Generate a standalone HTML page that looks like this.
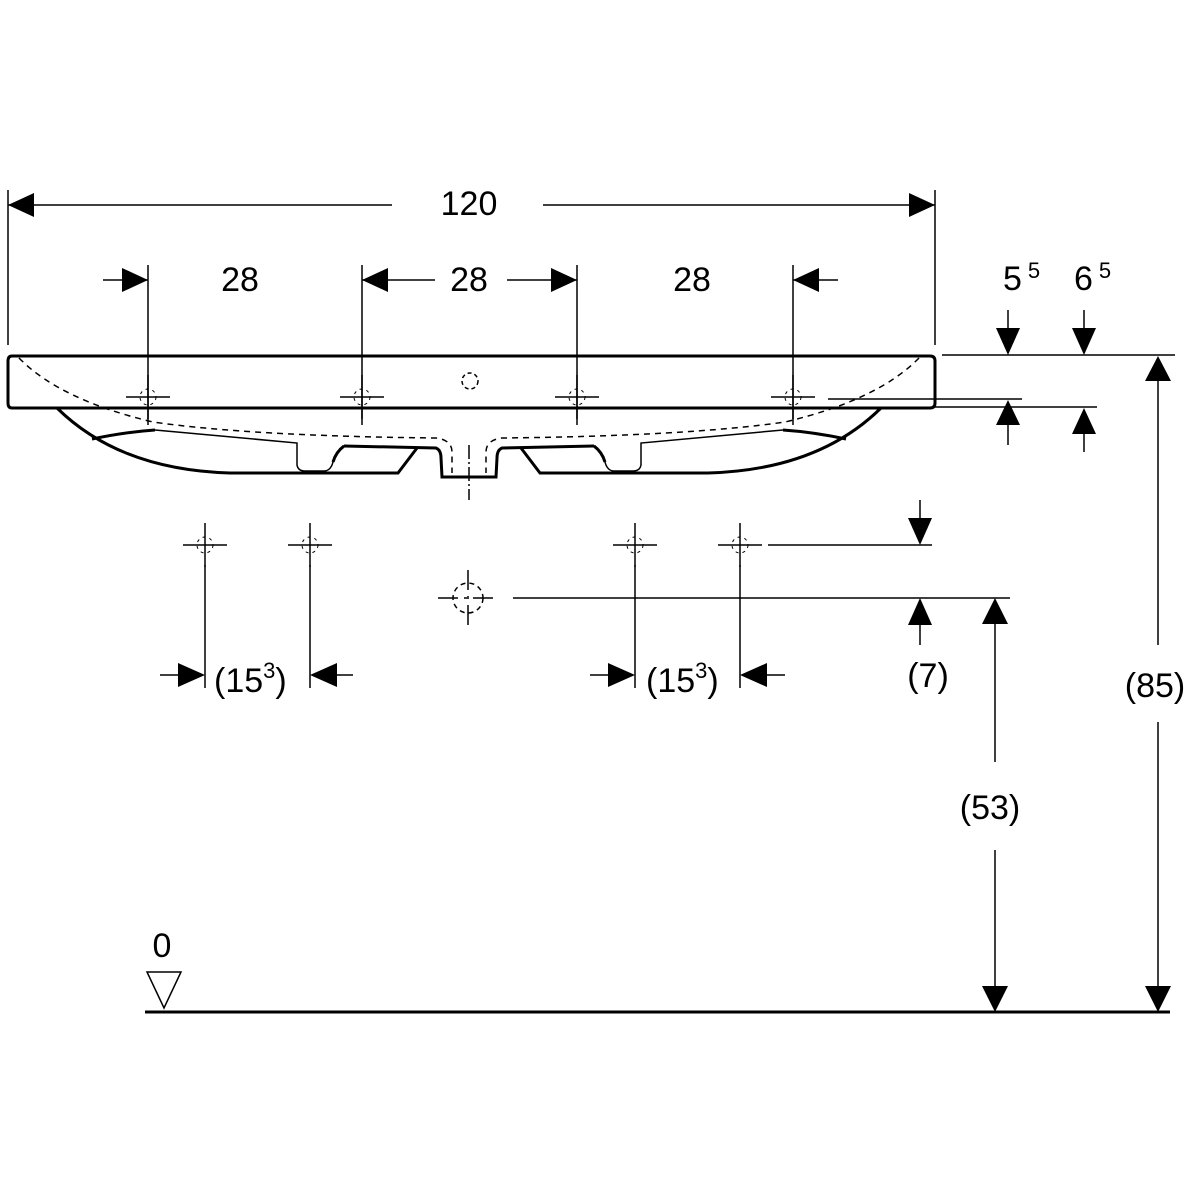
<!DOCTYPE html>
<html><head><meta charset="utf-8"><style>
html,body{margin:0;padding:0;background:#fff;width:1200px;height:1200px;overflow:hidden}
text{font-family:"Liberation Sans",sans-serif;font-size:34px;fill:#000}
</style></head><body>
<svg width="1200" height="1200" viewBox="0 0 1200 1200" xmlns="http://www.w3.org/2000/svg">
<defs>
<g id="cr"><line x1="-22" y1="0" x2="22" y2="0" stroke="#000" stroke-width="1.5"/><line x1="0" y1="-22" x2="0" y2="22" stroke="#000" stroke-width="1.5"/><circle r="8" fill="none" stroke="#000" stroke-width="1" stroke-dasharray="3,4"/></g>
</defs>
<g stroke="#000" fill="none">
<!-- rim -->
<path d="M12,356 L930,356 Q935,356 935,361 L935,403 Q935,408 930,408 L12,408 Q8,408 8,403 L8,361 Q8,356 12,356 Z" stroke-width="3"/>
<!-- outer bowl left -->
<path d="M57,408 Q120,470 230,473 L398,473 L417,448" stroke-width="3"/>
<path d="M881,408 Q818,470 708,473 L540,473 L521,448" stroke-width="3"/>
<path d="M92,439 Q125,432 155,430" stroke-width="3"/>
<path d="M846,439 Q813,432 783,430" stroke-width="3"/>
<!-- inner blocks -->
<path d="M155,430 L297,443 L297,465 Q298,471 305,471 L325,471 Q331,470 333,462 Q336,452 344,446 L436,448 Q441,450 441,458 L442,477 L496,477 L497,458 Q497,450 502,448 L594,446 Q602,452 605,462 Q607,470 613,471 L633,471 Q640,471 641,465 L641,443 L783,430" stroke-width="1.5"/>
<path d="M344,446 L436,448 Q441,450 441,458 L442,477 L496,477 L497,458 Q497,450 502,448 L594,446" stroke-width="3"/>
<path d="M344,446 Q336,452 333,462" stroke-width="3"/>
<path d="M594,446 Q602,452 605,462" stroke-width="3"/>
<!-- dashed bowl -->
<path d="M19,358 Q60,400 153,422 Q250,436 436,438 Q452,440 452,452 L452,473" stroke-width="1.5" stroke-dasharray="6,5"/>
<path d="M919,358 Q878,400 785,422 Q688,436 502,438 Q486,440 486,452 L486,473" stroke-width="1.5" stroke-dasharray="6,5"/>
<line x1="469" y1="445" x2="469" y2="500" stroke-width="1.5" stroke-dasharray="14,3,2,3"/>
<circle cx="470" cy="381" r="8" stroke-width="1.5" stroke-dasharray="4,3"/>
<!-- extension lines -->
<line x1="8" y1="190" x2="8" y2="345" stroke-width="1.5"/>
<line x1="935" y1="190" x2="935" y2="345" stroke-width="1.5"/>
<line x1="148" y1="265" x2="148" y2="425" stroke-width="1.5"/>
<line x1="362" y1="265" x2="362" y2="425" stroke-width="1.5"/>
<line x1="577" y1="265" x2="577" y2="425" stroke-width="1.5"/>
<line x1="793" y1="265" x2="793" y2="425" stroke-width="1.5"/>
<!-- 120 -->
<line x1="8" y1="205" x2="392" y2="205" stroke-width="1.5"/>
<line x1="543" y1="205" x2="935" y2="205" stroke-width="1.5"/>
<!-- 28s -->
<line x1="103" y1="280" x2="148" y2="280" stroke-width="1.5"/>
<line x1="362" y1="280" x2="435" y2="280" stroke-width="1.5"/>
<line x1="507" y1="280" x2="577" y2="280" stroke-width="1.5"/>
<line x1="793" y1="280" x2="838" y2="280" stroke-width="1.5"/>
<!-- right dims -->
<line x1="942" y1="355" x2="1175" y2="355" stroke-width="1.5"/>
<line x1="828" y1="399" x2="1022" y2="399" stroke-width="1.5"/>
<line x1="935" y1="407" x2="1097" y2="407" stroke-width="1.5"/>
<line x1="1008" y1="310" x2="1008" y2="340" stroke-width="1.5"/>
<line x1="1084" y1="310" x2="1084" y2="340" stroke-width="1.5"/>
<line x1="1008" y1="415" x2="1008" y2="445" stroke-width="1.5"/>
<line x1="1084" y1="425" x2="1084" y2="452" stroke-width="1.5"/>
<line x1="1158" y1="370" x2="1158" y2="645" stroke-width="1.5"/>
<line x1="1158" y1="722" x2="1158" y2="1000" stroke-width="1.5"/>
<line x1="995" y1="610" x2="995" y2="762" stroke-width="1.5"/>
<line x1="995" y1="850" x2="995" y2="1000" stroke-width="1.5"/>
<line x1="513" y1="598" x2="1010" y2="598" stroke-width="1.5"/>
<line x1="768" y1="545" x2="932" y2="545" stroke-width="1.5"/>
<line x1="920" y1="500" x2="920" y2="530" stroke-width="1.5"/>
<line x1="920" y1="615" x2="920" y2="645" stroke-width="1.5"/>
<!-- lower crosshair verticals -->
<line x1="205" y1="565" x2="205" y2="688" stroke-width="1.5"/>
<line x1="310" y1="565" x2="310" y2="688" stroke-width="1.5"/>
<line x1="635" y1="565" x2="635" y2="688" stroke-width="1.5"/>
<line x1="740" y1="565" x2="740" y2="688" stroke-width="1.5"/>
<line x1="160" y1="675" x2="190" y2="675" stroke-width="1.5"/>
<line x1="325" y1="675" x2="353" y2="675" stroke-width="1.5"/>
<line x1="590" y1="675" x2="620" y2="675" stroke-width="1.5"/>
<line x1="755" y1="675" x2="785" y2="675" stroke-width="1.5"/>
<!-- center circle -->
<circle cx="468" cy="598" r="15" stroke-width="1.5" stroke-dasharray="5,4"/>
<line x1="438" y1="598" x2="498" y2="598" stroke-width="1.5" stroke-dasharray="20,6,3,6"/>
<line x1="468" y1="570" x2="468" y2="628" stroke-width="1.5" stroke-dasharray="20,6,3,6"/>
<!-- ground -->
<line x1="145" y1="1012" x2="1170" y2="1012" stroke-width="3"/>
<path d="M147,972 L181,972 L164,1008 Z" stroke-width="1.5"/>
</g>
<g>
<use href="#cr" x="148" y="397"/><use href="#cr" x="362" y="397"/><use href="#cr" x="577" y="397"/><use href="#cr" x="793" y="397"/>
<use href="#cr" x="205" y="545"/><use href="#cr" x="310" y="545"/><use href="#cr" x="635" y="545"/><use href="#cr" x="740" y="545"/>
</g>
<g fill="#000">
<path d="M8,205 L34,193 L34,217 Z"/>
<path d="M935,205 L909,193 L909,217 Z"/>
<path d="M148,280 L122,268 L122,292 Z"/>
<path d="M362,280 L388,268 L388,292 Z"/>
<path d="M577,280 L551,268 L551,292 Z"/>
<path d="M793,280 L819,268 L819,292 Z"/>
<path d="M1008,355 L996,328 L1020,328 Z"/>
<path d="M1084,355 L1072,328 L1096,328 Z"/>
<path d="M1008,400 L996,425 L1020,425 Z"/>
<path d="M1084,408 L1072,434 L1096,434 Z"/>
<path d="M1158,356 L1145,381 L1171,381 Z"/>
<path d="M1158,1012 L1145,986 L1171,986 Z"/>
<path d="M995,598 L982,624 L1008,624 Z"/>
<path d="M995,1012 L982,986 L1008,986 Z"/>
<path d="M920,545 L908,518 L932,518 Z"/>
<path d="M920,598 L908,625 L932,625 Z"/>
<path d="M205,675 L178,663 L178,687 Z"/>
<path d="M310,675 L337,663 L337,687 Z"/>
<path d="M635,675 L608,663 L608,687 Z"/>
<path d="M740,675 L767,663 L767,687 Z"/>
</g>
<text x="469" y="215" text-anchor="middle">120</text>
<text x="240" y="291" text-anchor="middle">28</text>
<text x="469" y="291" text-anchor="middle">28</text>
<text x="692" y="291" text-anchor="middle">28</text>
<text x="1003" y="290">5<tspan font-size="22" dy="-12" dx="6">5</tspan></text>
<text x="1074" y="290">6<tspan font-size="22" dy="-12" dx="6">5</tspan></text>
<text x="214" y="692">(15<tspan font-size="22" dy="-14">3</tspan><tspan dy="14">)</tspan></text>
<text x="646" y="692">(15<tspan font-size="22" dy="-14">3</tspan><tspan dy="14">)</tspan></text>
<text x="928" y="687" text-anchor="middle">(7)</text>
<text x="1155" y="697" text-anchor="middle">(85)</text>
<text x="990" y="819" text-anchor="middle">(53)</text>
<text x="162" y="957" text-anchor="middle">0</text>
</svg>
</body></html>
